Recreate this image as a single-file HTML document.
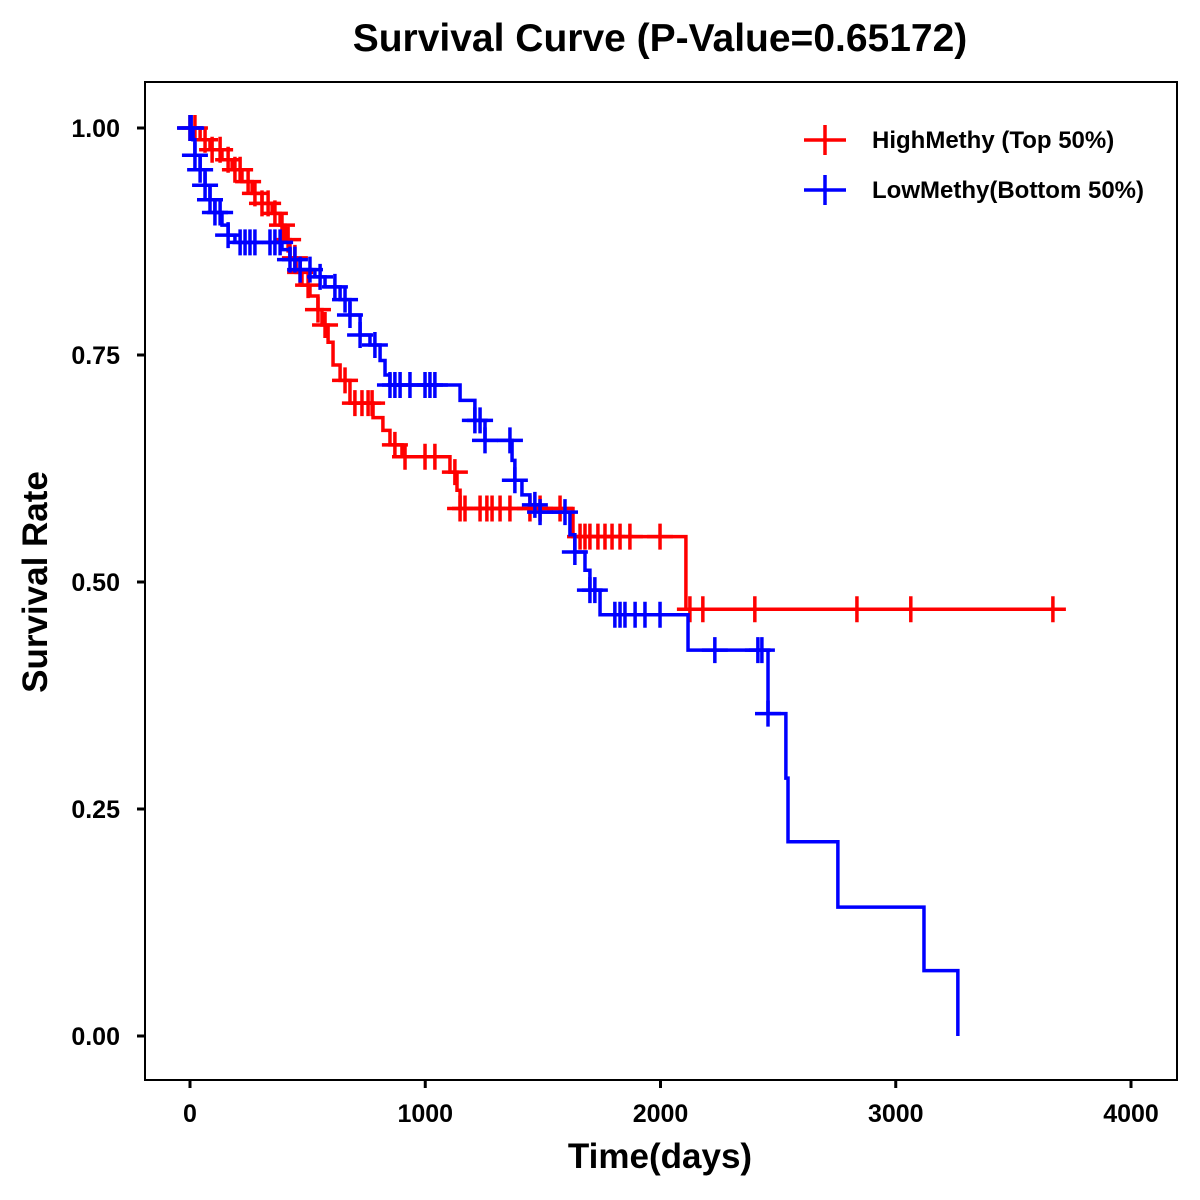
<!DOCTYPE html>
<html><head><meta charset="utf-8">
<style>
html,body{margin:0;padding:0;background:#fff;}
svg{display:block;font-family:"Liberation Sans",Arial,sans-serif;}
</style></head>
<body>
<svg id="chart" width="1200" height="1200" viewBox="0 0 1200 1200" xmlns="http://www.w3.org/2000/svg">
  <rect x="0" y="0" width="1200" height="1200" fill="#fff"/>
  <text x="660" y="51" text-anchor="middle" font-size="39" font-weight="bold">Survival Curve (P-Value=0.65172)</text>
  <rect x="145" y="82" width="1032" height="998" fill="none" stroke="#000" stroke-width="2"/>
  <g id="xaxis"></g>
  <g id="yaxis"></g>
  <text x="660" y="1168" text-anchor="middle" font-size="35" font-weight="bold">Time(days)</text>
  <text transform="translate(47,582) rotate(-90)" text-anchor="middle" font-size="35" font-weight="bold">Survival Rate</text>
  <g id="series"></g>
  <g id="legend">
    <g>
      <line x1="804" y1="140" x2="846" y2="140" stroke="#f00" stroke-width="3.5"/>
      <line x1="825" y1="125" x2="825" y2="155" stroke="#f00" stroke-width="3.5"/>
      <text x="872" y="148" font-size="24" font-weight="bold">HighMethy (Top 50%)</text>
    </g>
    <g>
      <line x1="804" y1="190" x2="846" y2="190" stroke="#00f" stroke-width="3.5"/>
      <line x1="825" y1="175" x2="825" y2="205" stroke="#00f" stroke-width="3.5"/>
      <text x="872" y="198" font-size="24" font-weight="bold">LowMethy(Bottom 50%)</text>
    </g>
  </g>
</svg>
<script>
const xTicks = [0, 1000, 2000, 3000, 4000];
const yTicks = [0, 0.25, 0.5, 0.75, 1.0];
const yTickLabels = ["0.00", "0.25", "0.50", "0.75", "1.00"];

const highTimes = [0,43,85,136,179,221,264,306,349,383,404,425,451,476,510,544,561,587,608,638,680,778,820,850,901,1105,1135,1148,1628,2108];
const highSurv = [1,0.987,0.976,0.965,0.954,0.941,0.928,0.917,0.906,0.893,0.877,0.857,0.841,0.827,0.815,0.800,0.783,0.764,0.739,0.722,0.697,0.681,0.667,0.651,0.638,0.621,0.601,0.581,0.550,0.470];
const highEnd = 3710;
const highCensor = [0,21,64,94,128,162,191,213,247,276,306,332,361,391,417,446,468,502,544,574,659,701,731,757,774,871,914,999,1041,1126,1148,1169,1233,1262,1284,1318,1360,1445,1488,1573,1658,1679,1700,1734,1764,1794,1828,1870,1998,2125,2180,2401,2835,3064,3668];

const lowTimes = [0,13,21,43,64,85,106,136,162,191,391,425,468,531,574,638,680,723,765,808,829,850,1148,1211,1254,1369,1381,1411,1445,1488,1615,1636,1679,1700,1743,2117,2457,2533,2542,2754,3120,3264];
const lowSurv = [1,0.987,0.970,0.954,0.937,0.921,0.907,0.893,0.882,0.874,0.866,0.855,0.844,0.836,0.825,0.811,0.794,0.772,0.761,0.744,0.728,0.717,0.700,0.678,0.656,0.634,0.612,0.596,0.585,0.577,0.552,0.533,0.513,0.491,0.464,0.425,0.355,0.284,0.214,0.142,0.072,0.0];
const lowEnd = 3264;
const lowCensor = [0,5,21,43,64,85,106,128,162,213,234,255,276,340,361,383,425,446,468,510,553,616,659,680,723,786,850,871,893,935,999,1020,1041,1211,1233,1254,1360,1381,1466,1488,1594,1636,1700,1721,1806,1828,1849,1892,1934,1998,2231,2414,2431,2457];

const NS = "http://www.w3.org/2000/svg";
function xScale(t){ return 190 + t * (1131 - 190) / 4000; }
function yScale(s){ return 1036 - s * (1036 - 128); }
function mk(tag, attrs, parent){
  const el = document.createElementNS(NS, tag);
  for (const k in attrs) el.setAttribute(k, attrs[k]);
  parent.appendChild(el);
  return el;
}
const xg = document.getElementById('xaxis');
xTicks.forEach(v => {
  const x = xScale(v);
  const t = mk('line', {x1:x, y1:1080, x2:x, y2:1088, stroke:'#000', 'stroke-width':3}, xg);
  
  
  const l = mk('text', {x:x, y:1122, 'text-anchor':'middle', 'font-size':25, 'font-weight':'bold'}, xg);
  l.textContent = String(v);
  
  
});
const yg = document.getElementById('yaxis');
yTicks.forEach((v, i) => {
  const y = yScale(v);
  const t = mk('line', {x1:137, y1:y, x2:145, y2:y, stroke:'#000', 'stroke-width':3}, yg);
  
  
  const l = mk('text', {x:120, y:y + 9, 'text-anchor':'end', 'font-size':25, 'font-weight':'bold'}, yg);
  l.textContent = yTickLabels[i];
  
  
});
function survAt(times, surv, t){
  let s = surv[0];
  for (let i = 0; i < times.length; i++) { if (times[i] <= t) s = surv[i]; }
  return s;
}
const sg = document.getElementById('series');
function drawSeries(times, surv, end, censor, color, name){
  const g = mk('g', {}, sg);
  
  
  let d = 'M' + xScale(times[0]) + ' ' + yScale(surv[0]);
  for (let i = 1; i < times.length; i++) {
    d += ' H' + xScale(times[i]) + ' V' + yScale(surv[i]);
  }
  d += ' H' + xScale(end);
  const p = mk('path', {d:d, fill:'none', stroke:color, 'stroke-width':3.5}, g);
  
  
  censor.forEach(t => {
    const x = xScale(t), y = yScale(survAt(times, surv, t));
    const c = mk('path', {d:'M' + (x - 13) + ' ' + y + ' H' + (x + 13) + ' M' + x + ' ' + (y - 13) + ' V' + (y + 13), stroke:color, 'stroke-width':3.5, fill:'none'}, g);
    
    
  });
}
drawSeries(highTimes, highSurv, highEnd, highCensor, '#ff0000', 'high-methy');
drawSeries(lowTimes, lowSurv, lowEnd, lowCensor, '#0000ff', 'low-methy');
</script>
</body></html>
